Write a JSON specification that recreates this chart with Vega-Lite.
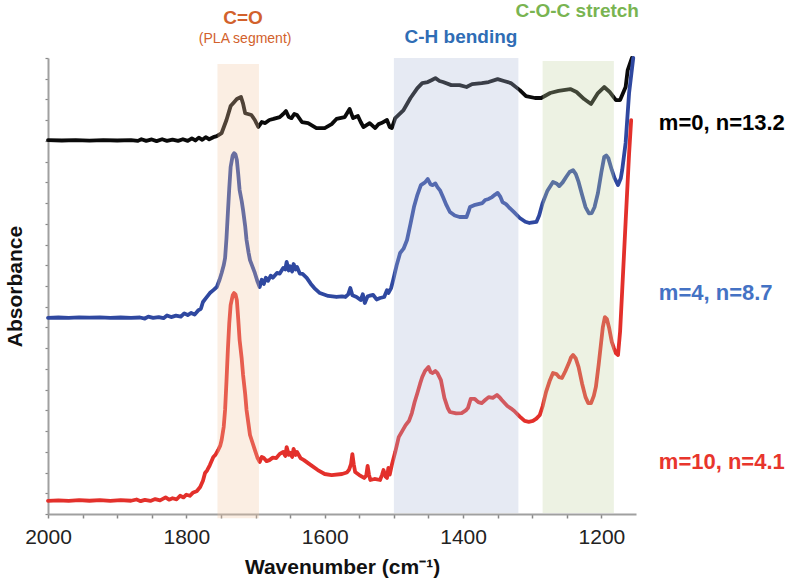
{
"$schema": "https://vega.github.io/schema/vega-lite/v6.json",
"width": 588, "height": 456,
"autosize": "none",
"padding": {"left": 48, "top": 58, "right": 152, "bottom": 68},
"config": {"view": {"stroke": null}, "font": "Liberation Sans"},
"datasets": {
"black": [[2000,18.04],[1980,18.02],[1960,18.04],[1940,18.01],[1920,18.04],[1900,18.02],[1880,18.04],[1870,18.0],[1865,18.08],[1858,18.0],[1850,18.07],[1843,17.99],[1835,18.08],[1828,18.0],[1820,18.06],[1812,18.0],[1805,18.08],[1798,18.0],[1792,18.12],[1787,18.02],[1782,18.16],[1777,18.05],[1772,18.18],[1767,18.08],[1761,18.18],[1756,18.23],[1749,18.38],[1742,19.01],[1736,19.68],[1732,19.83],[1727,20.02],[1721,20.12],[1718,19.8],[1715,19.34],[1711,19.3],[1706,19.25],[1701,19.01],[1696,18.67],[1691,18.91],[1686,18.86],[1680,19.01],[1674,19.06],[1665,19.15],[1660,19.3],[1656,19.44],[1652,19.15],[1648,19.1],[1644,19.3],[1640,19.25],[1633,18.91],[1624,18.86],[1612,18.62],[1600,18.62],[1590,18.81],[1583,19.06],[1571,19.15],[1564,19.54],[1559,19.1],[1552,19.2],[1548,18.91],[1544,18.67],[1535,18.86],[1527,18.62],[1522,18.81],[1518,18.86],[1510,19.01],[1506,18.67],[1503,18.62],[1498,19.1],[1486,19.49],[1476,20.07],[1466,20.55],[1459,20.79],[1451,20.84],[1445,20.94],[1440,21.03],[1434,20.89],[1429,20.84],[1417,20.69],[1405,20.69],[1395,20.6],[1387,20.74],[1373,20.79],[1363,20.84],[1350,20.98],[1341,20.89],[1331,20.79],[1318,20.45],[1309,20.16],[1296,20.07],[1287,20.07],[1274,20.31],[1262,20.41],[1245,20.5],[1236,20.36],[1225,20.02],[1215,19.78],[1205,20.31],[1196,20.6],[1188,20.36],[1179,19.97],[1173,19.97],[1165,20.6],[1162,21.42],[1156,22.0]],
"blue": [[2000,9.46],[1985,9.48],[1970,9.46],[1955,9.49],[1940,9.47],[1925,9.49],[1910,9.46],[1895,9.48],[1880,9.46],[1867,9.48],[1860,9.43],[1855,9.52],[1848,9.46],[1840,9.5],[1833,9.45],[1828,9.58],[1822,9.5],[1815,9.57],[1808,9.52],[1803,9.68],[1798,9.6],[1793,9.7],[1788,9.62],[1783,9.82],[1779,9.9],[1776,10.23],[1772,10.4],[1766,10.66],[1761,10.8],[1756,10.95],[1752,11.3],[1749,11.63],[1746,12.0],[1744,12.35],[1742,13.3],[1740,14.52],[1738,15.7],[1736,16.74],[1733,17.3],[1731,17.41],[1729,17.35],[1727,17.08],[1725,16.4],[1723,15.63],[1720,15.1],[1718,14.66],[1715,13.9],[1713,13.22],[1710,12.6],[1708,12.25],[1704,11.9],[1701,11.63],[1697,11.2],[1694,10.95],[1691,11.3],[1688,11.1],[1685,11.4],[1682,11.25],[1678,11.5],[1675,11.4],[1669,11.63],[1665,11.6],[1660,11.87],[1657,11.8],[1655,12.16],[1652,11.75],[1650,11.95],[1647,11.7],[1645,12.06],[1642,11.8],[1640,11.92],[1636,11.6],[1632,11.58],[1626,11.39],[1620,11.1],[1615,10.9],[1607,10.66],[1595,10.52],[1583,10.47],[1575,10.5],[1570,10.47],[1566,10.6],[1563,10.9],[1560,10.55],[1554,10.47],[1548,10.32],[1545,10.6],[1542,10.18],[1538,10.5],[1536,10.52],[1530,10.57],[1525,10.35],[1520,10.42],[1514,10.47],[1510,10.8],[1508,10.66],[1504,10.9],[1501,11.29],[1496,12.0],[1491,12.59],[1486,12.8],[1481,13.22],[1476,14.0],[1471,14.81],[1466,15.4],[1461,15.87],[1455,16.0],[1451,16.16],[1447,15.9],[1444,15.87],[1440,15.95],[1437,15.77],[1433,15.6],[1429,15.29],[1424,14.9],[1419,14.57],[1412,14.4],[1405,14.33],[1395,14.33],[1392,14.6],[1390,14.81],[1384,14.9],[1378,14.95],[1372,15.0],[1368,15.15],[1363,15.2],[1358,15.29],[1354,15.4],[1350,15.49],[1346,15.3],[1343,15.05],[1338,14.95],[1334,14.81],[1326,14.55],[1318,14.28],[1310,14.1],[1304,14.04],[1294,14.09],[1290,14.4],[1285,15.0],[1278,15.6],[1270,16.02],[1265,15.95],[1261,15.82],[1256,16.0],[1251,16.26],[1246,16.5],[1241,16.59],[1237,16.4],[1233,16.02],[1228,15.4],[1223,14.81],[1218,14.5],[1214,14.52],[1210,14.8],[1205,15.49],[1200,16.5],[1196,17.22],[1193,17.3],[1190,17.17],[1185,16.6],[1181,16.21],[1176,15.87],[1172,16.2],[1170,16.59],[1165,17.9],[1160,20.31],[1154,22.0]],
"red": [[2000,0.63],[1985,0.66],[1970,0.63],[1955,0.67],[1940,0.64],[1925,0.67],[1910,0.63],[1895,0.67],[1880,0.64],[1872,0.7],[1866,0.62],[1860,0.68],[1852,0.63],[1845,0.72],[1838,0.66],[1830,0.8],[1825,0.69],[1820,0.76],[1814,0.71],[1809,0.88],[1804,0.8],[1800,0.93],[1795,0.88],[1790,1.04],[1785,1.1],[1780,1.3],[1776,1.6],[1773,1.98],[1770,2.1],[1766,2.36],[1761,2.75],[1758,2.85],[1754,3.09],[1751,3.3],[1749,3.57],[1746,4.2],[1744,5.02],[1742,6.4],[1740,7.91],[1738,9.2],[1736,10.08],[1733,10.55],[1731,10.66],[1729,10.6],[1727,10.32],[1725,9.4],[1723,8.39],[1720,7.5],[1718,6.71],[1715,5.8],[1713,5.02],[1710,4.3],[1708,3.81],[1704,3.4],[1701,3.09],[1697,2.7],[1694,2.51],[1691,2.75],[1688,2.7],[1684,2.55],[1680,2.6],[1675,2.72],[1670,2.7],[1665,2.9],[1660,2.99],[1657,2.8],[1655,3.23],[1652,2.85],[1650,2.95],[1647,2.75],[1645,3.14],[1642,2.85],[1640,2.99],[1635,2.7],[1630,2.6],[1620,2.36],[1610,2.12],[1600,1.93],[1590,1.88],[1575,1.93],[1568,2.0],[1565,2.12],[1562,2.4],[1560,2.89],[1558,2.4],[1556,2.03],[1550,1.88],[1543,1.74],[1540,1.85],[1538,2.32],[1536,1.9],[1534,1.64],[1528,1.69],[1520,1.64],[1517,1.9],[1515,2.12],[1512,1.8],[1510,1.74],[1508,2.22],[1506,1.9],[1503,2.36],[1498,3.0],[1493,3.71],[1488,4.0],[1483,4.29],[1478,4.5],[1474,4.87],[1470,5.4],[1466,5.84],[1462,6.3],[1459,6.61],[1455,6.9],[1450,7.09],[1447,6.85],[1444,6.8],[1440,6.9],[1437,6.8],[1432,6.46],[1427,5.6],[1422,5.1],[1419,4.92],[1410,4.85],[1402,4.87],[1396,5.0],[1393,5.11],[1389,5.55],[1383,5.55],[1378,5.4],[1373,5.35],[1368,5.5],[1363,5.64],[1357,5.6],[1351,5.74],[1347,5.62],[1344,5.5],[1336,5.21],[1331,5.1],[1326,4.97],[1318,4.7],[1311,4.49],[1305,4.45],[1299,4.49],[1294,4.6],[1289,4.78],[1285,5.2],[1280,5.89],[1275,6.4],[1270,6.8],[1265,6.75],[1261,6.6],[1257,6.56],[1252,6.9],[1247,7.28],[1244,7.55],[1241,7.67],[1237,7.5],[1233,7.09],[1228,6.3],[1223,5.64],[1219,5.35],[1215,5.35],[1211,5.7],[1208,6.13],[1204,7.2],[1201,8.1],[1198,9.0],[1195,9.5],[1192,9.4],[1189,9.0],[1185,8.3],[1182,8.01],[1179,7.75],[1176,7.67],[1173,8.8],[1170,10.76],[1165,14.09],[1160,17.37],[1157,19.0]],
"bands": [
 {"start": 1755, "end": 1695, "lo": -0.2, "hi": 21.71, "band": "band_CO"},
 {"start": 1500, "end": 1320, "lo": 0.05, "hi": 22.0, "band": "band_CH"},
 {"start": 1285, "end": 1182, "lo": 0.05, "hi": 21.85, "band": "band_COC"}
],
"bandLabels": [
 {"wn": 1718, "abs": 23.93, "text": "C=O", "key": "CO"},
 {"wn": 1403, "abs": 23.0, "text": "C-H bending", "key": "CH"},
 {"wn": 1235, "abs": 24.26, "text": "C-O-C stretch", "key": "COC"}
],
"subLabels": [
 {"wn": 1715, "abs": 22.91, "text": "(PLA segment)", "key": "CO"}
],
"seriesLabels": [
 {"wn": 1117, "abs": 18.86, "text": "m=0, n=13.2", "key": "lbl_m0"},
 {"wn": 1117, "abs": 10.66, "text": "m=4, n=8.7", "key": "lbl_m4"},
 {"wn": 1117, "abs": 2.51, "text": "m=10, n=4.1", "key": "lbl_m10"}
]
},
"layer": [
 {
  "data": {"name": "black"},
  "transform": [{"calculate": "datum[0]", "as": "wn"}, {"calculate": "datum[1]", "as": "abs"}],
  "mark": {"type": "line", "strokeWidth": 3.8, "strokeJoin": "round", "strokeCap": "round", "color": "#0a0a0a"},
  "encoding": {
   "x": {"field": "wn", "type": "quantitative",
     "scale": {"domain": [1150, 2000], "reverse": true, "nice": false, "zero": false},
     "axis": {"values": [2000,1950,1900,1850,1800,1750,1700,1650,1600,1550,1500,1450,1400,1350,1300,1250,1200], "tickCount": 40,
       "format": "d", "labelExpr": "datum.value % 200 === 0 ? datum.label : ''", "labelOverlap": false,
       "grid": false, "domainColor": "#a0a0a0", "domainWidth": 2, "tickColor": "#888888", "tickSize": 4, "tickWidth": 1.5,
       "labelFontSize": 21, "labelColor": "#222222", "labelPadding": 8, "labelFlush": false,
       "title": "Wavenumber (cm⁻¹)", "titleFontSize": 21, "titleFontWeight": "bold", "titleColor": "#111111", "titlePadding": 9}},
   "y": {"field": "abs", "type": "quantitative",
     "scale": {"domain": [0, 22], "nice": false, "zero": false},
     "axis": {"values": [0,1,2,3,4,5,6,7,8,9,10,11,12,13,14,15,16,17,18,19,20,21,22], "tickCount": 40, "labels": false, "labelOverlap": false, "grid": false,
       "domainColor": "#a0a0a0", "domainWidth": 2, "tickColor": "#888888", "tickSize": 3, "tickWidth": 1.2,
       "title": "Absorbance", "titleFontSize": 21, "titleFontWeight": "bold", "titleColor": "#111111", "titlePadding": 19}}
  }
 },
 {
  "data": {"name": "blue"},
  "transform": [{"calculate": "datum[0]", "as": "wn"}, {"calculate": "datum[1]", "as": "abs"}],
  "mark": {"type": "line", "strokeWidth": 3.8, "strokeJoin": "round", "strokeCap": "round", "color": "#2f48a0"},
  "encoding": {"x": {"field": "wn", "type": "quantitative"}, "y": {"field": "abs", "type": "quantitative"}}
 },
 {
  "data": {"name": "red"},
  "transform": [{"calculate": "datum[0]", "as": "wn"}, {"calculate": "datum[1]", "as": "abs"}],
  "mark": {"type": "line", "strokeWidth": 3.8, "strokeJoin": "round", "strokeCap": "round", "color": "#e3302b"},
  "encoding": {"x": {"field": "wn", "type": "quantitative"}, "y": {"field": "abs", "type": "quantitative"}}
 },
 {
  "data": {"name": "bands"},
  "mark": {"type": "rect", "opacity": 0.3},
  "encoding": {
   "x": {"field": "start", "type": "quantitative"}, "x2": {"field": "end"},
   "y": {"field": "lo", "type": "quantitative"}, "y2": {"field": "hi"},
   "color": {"field": "band", "type": "nominal", "legend": null,
     "scale": {"domain": ["band_CO","band_CH","band_COC","CO","CH","COC","lbl_m0","lbl_m4","lbl_m10"],
               "range": ["#f2c6a2","#acb9d7","#c3d4a2","#d2612c","#2f6db5","#79b451","#000000","#4472c4","#e8352c"]}}
  }
 },
 {
  "data": {"name": "bandLabels"},
  "mark": {"type": "text", "fontSize": 19, "fontWeight": "bold", "align": "center", "baseline": "middle"},
  "encoding": {"x": {"field": "wn", "type": "quantitative"}, "y": {"field": "abs", "type": "quantitative"},
   "text": {"field": "text"}, "color": {"field": "key", "type": "nominal", "legend": null}}
 },
 {
  "data": {"name": "subLabels"},
  "mark": {"type": "text", "fontSize": 14, "align": "center", "baseline": "middle"},
  "encoding": {"x": {"field": "wn", "type": "quantitative"}, "y": {"field": "abs", "type": "quantitative"},
   "text": {"field": "text"}, "color": {"field": "key", "type": "nominal", "legend": null}}
 },
 {
  "data": {"name": "seriesLabels"},
  "mark": {"type": "text", "fontSize": 22, "fontWeight": "bold", "align": "left", "baseline": "middle"},
  "encoding": {"x": {"field": "wn", "type": "quantitative"}, "y": {"field": "abs", "type": "quantitative"},
   "text": {"field": "text"}, "color": {"field": "key", "type": "nominal", "legend": null}}
 }
]
}
